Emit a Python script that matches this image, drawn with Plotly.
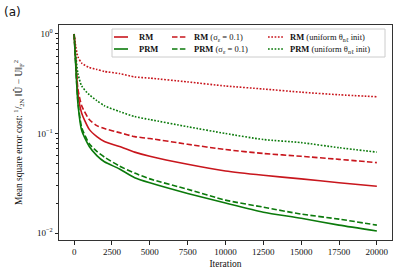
import plotly.graph_objects as go

iterations = [0, 100, 250, 500, 1000, 1500, 2000, 3000, 4000, 5000, 7500, 10000, 12500, 15000, 17500, 20000]

rm = [1.0, 0.56, 0.25, 0.16, 0.11, 0.093, 0.083, 0.074, 0.065, 0.059, 0.049, 0.042, 0.038, 0.035, 0.032, 0.0295]
prm = [1.0, 0.50, 0.20, 0.107, 0.074, 0.060, 0.052, 0.044, 0.036, 0.032, 0.025, 0.020, 0.0162, 0.0141, 0.012, 0.0105]
rm_sigma = [1.0, 0.56, 0.28, 0.19, 0.138, 0.120, 0.112, 0.102, 0.093, 0.089, 0.078, 0.069, 0.063, 0.059, 0.055, 0.051]
prm_sigma = [1.0, 0.50, 0.21, 0.115, 0.079, 0.066, 0.058, 0.047, 0.040, 0.035, 0.0275, 0.0214, 0.0182, 0.0155, 0.0138, 0.012]
rm_uniform = [1.0, 0.76, 0.59, 0.51, 0.46, 0.44, 0.42, 0.40, 0.37, 0.36, 0.33, 0.30, 0.28, 0.26, 0.245, 0.234]
prm_uniform = [1.0, 0.63, 0.40, 0.30, 0.245, 0.214, 0.19, 0.166, 0.148, 0.138, 0.117, 0.100, 0.087, 0.081, 0.072, 0.065]

x_ticks = [0, 2500, 5000, 7500, 10000, 12500, 15000, 17500, 20000]
x_ticktext = ["0", "2500", "5000", "7500", "10000", "12500", "15000", "17500", "20000"]
y_ticks = [1, 0.1, 0.01]
y_ticktext = ["10<sup>0</sup>", "10<sup>−1</sup>", "10<sup>−2</sup>"]

RED = "#c8161d"
GREEN = "#0b7a0b"
FONT = "Liberation Serif"
DASH = "5.5px,2.4px"
DOT = "1.7px,1.6px"

series = [
    ("<b>RM</b>", rm, RED, "solid"),
    ("<b>PRM</b>", prm, GREEN, "solid"),
    ("<b>RM</b> (σ<sub>ε</sub> = 0.1)", rm_sigma, RED, DASH),
    ("<b>PRM</b> (σ<sub>ε</sub> = 0.1)", prm_sigma, GREEN, DASH),
    ("<b>RM</b> (uniform θ<sub>nℓ</sub> init)", rm_uniform, RED, DOT),
    ("<b>PRM</b> (uniform θ<sub>nℓ</sub> init)", prm_uniform, GREEN, DOT),
]

W, H = 399, 275
L, R, T, B = 59, 7, 25, 35
pw, ph = W - L - R, H - T - B

def px_x(p):
    return (p - L) / pw

def px_y(p):
    return 1 - (p - T) / ph

fig = go.Figure()
for name, vals, color, dash in series:
    fig.add_trace(go.Scatter(
        x=iterations, y=vals, mode="lines", name=name, showlegend=False,
        line=dict(color=color, width=1.6, dash=dash, shape="spline", smoothing=0.6),
    ))

# Legend drawn as a framed block of samples + text (3 columns x 2 rows)
col_line = [(114, 128), (172, 187), (268, 283)]
col_text = [137, 192, 288]
row_y = [37, 49]

shapes = [dict(type="rect", xref="paper", yref="paper",
               x0=px_x(112), x1=px_x(385), y0=px_y(57), y1=px_y(29),
               line=dict(color="#cccccc", width=1), fillcolor="rgba(255,255,255,0.85)",
               layer="above")]
annotations = [dict(text="(a)", xref="paper", yref="paper", x=px_x(2), y=px_y(3),
                    xanchor="left", yanchor="top", showarrow=False,
                    font=dict(family="DejaVu Sans", size=12, color="#111"))]
for i, (name, vals, color, dash) in enumerate(series):
    c, r = i // 2, i % 2
    x0, x1 = col_line[c]
    shapes.append(dict(type="line", xref="paper", yref="paper",
                       x0=px_x(x0), x1=px_x(x1), y0=px_y(row_y[r]), y1=px_y(row_y[r]),
                       line=dict(color=color, width=1.6, dash=dash), layer="above"))
    annotations.append(dict(text=name, xref="paper", yref="paper",
                            x=px_x(col_text[c]), y=px_y(row_y[r]),
                            xanchor="left", yanchor="middle", showarrow=False,
                            font=dict(family=FONT, size=8.5, color="#111")))

fig.update_layout(
    width=W, height=H,
    margin=dict(l=L, r=R, t=T, b=B, autoexpand=False),
    paper_bgcolor="white", plot_bgcolor="white",
    font=dict(family=FONT, size=9, color="#111"),
    showlegend=False,
    xaxis=dict(
        range=[-1000, 21000], tickvals=x_ticks, ticktext=x_ticktext, ticks="outside", ticklen=3.5,
        tickcolor="#222", showline=True, linecolor="#333", linewidth=1, mirror=True,
        showgrid=False, zeroline=False, automargin=False,
        title=dict(text="Iteration", font=dict(size=9.5), standoff=4),
        tickfont=dict(size=9),
    ),
    yaxis=dict(
        type="log", range=[-2.07, 0.09], tickvals=y_ticks, ticktext=y_ticktext,
        ticks="outside", ticklen=3.5, tickcolor="#222",
        showline=True, linecolor="#333", linewidth=1, mirror=True,
        showgrid=False, zeroline=False, automargin=False,
        minor=dict(ticks="outside", ticklen=2, tickcolor="#222",
                   tickvals=[0.02, 0.03, 0.04, 0.05, 0.06, 0.07, 0.08, 0.09,
                             0.2, 0.3, 0.4, 0.5, 0.6, 0.7, 0.8, 0.9], showgrid=False),
        title=dict(text="Mean square error cost: <sup>1</sup>/<sub>2N</sub> ‖Û − U‖<sub>F</sub><sup>2</sup>",
                   font=dict(size=9.5), standoff=12),
        tickfont=dict(size=9),
    ),
    shapes=shapes,
    annotations=annotations,
)

fig.write_html("out.html", config={"displayModeBar": False},
               post_script="document.body.style.margin='0px';")
